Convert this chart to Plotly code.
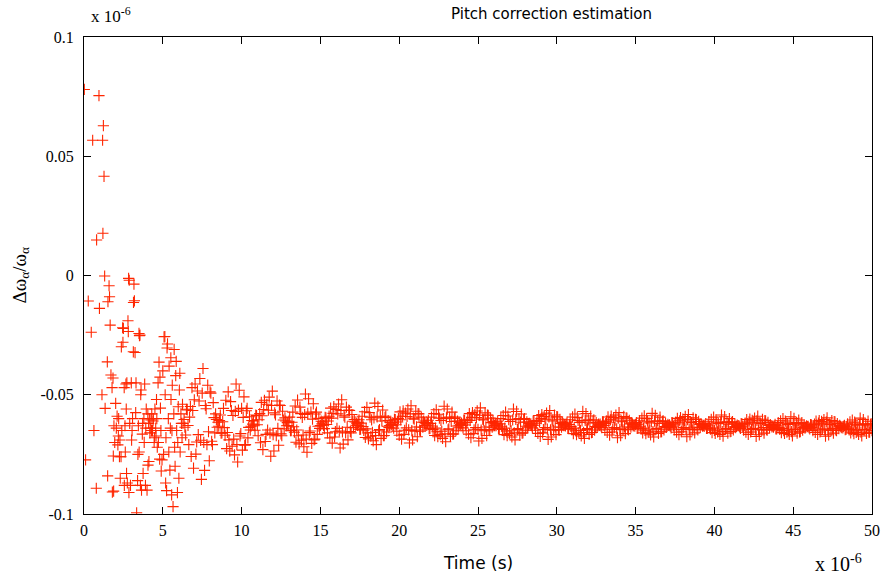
import plotly.graph_objects as go

# Time in microseconds (axis shows "x 10^-6"), values in units of 1e-6
early_time = [0.02, 0.10, 0.27, 0.46, 0.55, 0.63, 0.78, 0.80, 0.95, 0.98,
              1.14, 1.18, 1.20, 1.23, 1.27, 1.31, 1.34, 1.48, 1.50, 1.52,
              1.59, 1.62, 1.66, 1.71, 1.78, 1.80, 1.84, 1.86, 1.88, 1.90,
              1.95, 2.01, 2.05, 2.10, 2.15, 2.18, 2.20, 2.25, 2.28, 2.30,
              2.35, 2.37, 2.40, 2.45, 2.47, 2.50, 2.55, 2.56, 2.60, 2.62,
              2.66, 2.68, 2.70, 2.72, 2.75, 2.79, 2.81, 2.83, 2.85, 2.87,
              2.90, 2.95, 3.00, 3.02, 3.05, 3.08, 3.13, 3.14, 3.17, 3.20,
              3.24, 3.28, 3.30, 3.34, 3.40, 3.42, 3.45, 3.49, 3.50, 3.52,
              3.55, 3.58, 3.60, 3.62, 3.65, 3.70, 3.72, 3.75, 3.80, 3.82,
              3.85, 3.90, 3.92, 3.95, 4.00, 4.05, 4.06, 4.10, 4.12, 4.15,
              4.18, 4.20, 4.25, 4.28, 4.30, 4.35, 4.38, 4.40, 4.45, 4.48,
              4.50, 4.55, 4.57, 4.60, 4.62, 4.65, 4.70, 4.72, 4.76, 4.80,
              4.82, 4.85, 4.88, 4.90, 4.95, 5.00, 5.05, 5.08, 5.13, 5.15,
              5.18, 5.20, 5.24, 5.27, 5.30, 5.35, 5.38, 5.40, 5.45, 5.48,
              5.51, 5.52, 5.56, 5.58, 5.60, 5.65, 5.70, 5.72, 5.75, 5.78,
              5.82, 5.85, 5.88, 5.93, 5.95, 5.98, 6.02, 6.05, 6.08, 6.10,
              6.15, 6.18, 6.22, 6.25, 6.28]
early_value = [0.0780, -0.0773, -0.0107, -0.0238, 0.0567, -0.0650, -0.0892, 0.0149, 0.0754, -0.0138,
               -0.0500, 0.0567, 0.0177, 0.0628, 0.0416, -0.0002, -0.0557, -0.0362, -0.0840, -0.0110,
               -0.0043, -0.0089, -0.0208, -0.0417, -0.0470, -0.0908, -0.0430, -0.0757, -0.0904, -0.0630,
               -0.0700, -0.0536, -0.0640, -0.0590, -0.0710, -0.0673, -0.0600, -0.0760, -0.0690, -0.0850,
               -0.0760, -0.0299, -0.0650, -0.0219, -0.0280, -0.0222, -0.0470, -0.0880, -0.0630, -0.0740,
               -0.0455, -0.0560, -0.0830, -0.0450, -0.0870, -0.0190, -0.0235, -0.0012, -0.0910, -0.0020,
               -0.0620, -0.0880, -0.0450, -0.0690, -0.0650, -0.0600, -0.0320, -0.0113, -0.0036, -0.0106,
               -0.0323, -0.0575, -0.0450, -0.0995, -0.0860, -0.0750, -0.0630, -0.0243, -0.0740, -0.0252,
               -0.0250, -0.0880, -0.0500, -0.0480, -0.0900, -0.0665, -0.0620, -0.0830, -0.0600, -0.0700,
               -0.0455, -0.0880, -0.0640, -0.0560, -0.0900, -0.0580, -0.0795, -0.0620, -0.0780, -0.0600,
               -0.0660, -0.0640, -0.0606, -0.0650, -0.0580, -0.0650, -0.0610, -0.0600, -0.0700, -0.0680,
               -0.0560, -0.0640, -0.0673, -0.0520, -0.0600, -0.0720, -0.0450, -0.0700, -0.0363, -0.0770,
               -0.0426, -0.0556, -0.0650, -0.0820, -0.0773, -0.0400, -0.0750, -0.0257, -0.0256, -0.0500,
               -0.0870, -0.0680, -0.0902, -0.0304, -0.0287, -0.0600, -0.0740, -0.0380, -0.0816, -0.0640,
               -0.0345, -0.0520, -0.0920, -0.0650, -0.0460, -0.0969, -0.0580, -0.0310, -0.0720, -0.0800,
               -0.0420, -0.0360, -0.0650, -0.0910, -0.0700, -0.0550, -0.0850, -0.0480, -0.0410, -0.0740,
               -0.0580, -0.0620, -0.0680, -0.0540, -0.0620]

# Samples at x.x5 microseconds
seg2_time = [6.35, 6.45, 6.55, 6.65, 6.75, 6.85, 6.95, 7.05, 7.15, 7.25, 7.35, 7.45, 7.55, 7.65, 7.75, 7.85, 7.95, 8.05, 8.15, 8.25, 8.35, 8.45,
             8.55, 8.65, 8.75, 8.85, 8.95, 9.05, 9.15, 9.25, 9.35, 9.45, 9.55, 9.65, 9.75, 9.85, 9.95, 10.05, 10.15, 10.25, 10.35, 10.45, 10.55, 10.65,
             10.75, 10.85, 10.95, 11.05, 11.15, 11.25, 11.35, 11.45, 11.55, 11.65, 11.75, 11.85, 11.95, 12.05, 12.15, 12.25, 12.35, 12.45, 12.55, 12.65, 12.75, 12.85,
             12.95, 13.05, 13.15, 13.25, 13.35, 13.45, 13.55, 13.65, 13.75, 13.85, 13.95, 14.05, 14.15, 14.25, 14.35, 14.45, 14.55, 14.65, 14.75, 14.85, 14.95, 15.05,
             15.15, 15.25, 15.35, 15.45, 15.55, 15.65, 15.75, 15.85, 15.95, 16.05, 16.15, 16.25, 16.35, 16.45, 16.55, 16.65, 16.75, 16.85, 16.95, 17.05, 17.15, 17.25]
seg2_value = [-0.0604, -0.0669, -0.0564, -0.0709, -0.0549, -0.0470, -0.0808, -0.0455, -0.0698, -0.0667, -0.0432, -0.0855, -0.0390, -0.0817, -0.0559, -0.0460, -0.0777, -0.0493, -0.0709, -0.0596, -0.0580, -0.0636,
              -0.0632, -0.0585, -0.0660, -0.0557, -0.0670, -0.0726, -0.0488, -0.0736, -0.0566, -0.0587, -0.0752, -0.0455, -0.0782, -0.0481, -0.0663, -0.0732, -0.0509, -0.0709, -0.0557, -0.0637, -0.0648, -0.0608,
              -0.0610, -0.0649, -0.0587, -0.0672, -0.0579, -0.0532, -0.0730, -0.0523, -0.0666, -0.0648, -0.0510, -0.0758, -0.0485, -0.0736, -0.0584, -0.0526, -0.0712, -0.0545, -0.0672, -0.0606, -0.0597, -0.0630,
              -0.0629, -0.0594, -0.0650, -0.0573, -0.0657, -0.0699, -0.0522, -0.0706, -0.0579, -0.0595, -0.0718, -0.0497, -0.0741, -0.0517, -0.0652, -0.0704, -0.0538, -0.0686, -0.0573, -0.0632, -0.0641, -0.0611,
              -0.0614, -0.0642, -0.0597, -0.0660, -0.0590, -0.0556, -0.0703, -0.0550, -0.0655, -0.0641, -0.0539, -0.0723, -0.0521, -0.0707, -0.0594, -0.0552, -0.0689, -0.0566, -0.0660, -0.0611, -0.0604, -0.0628]

seg3_time = [17.35, 17.45, 17.55, 17.65, 17.75, 17.85, 17.95, 18.05, 18.15, 18.25, 18.35, 18.45, 18.55, 18.65, 18.75, 18.85, 18.95, 19.05, 19.15, 19.25, 19.35, 19.45,
             19.55, 19.65, 19.75, 19.85, 19.95, 20.05, 20.15, 20.25, 20.35, 20.45, 20.55, 20.65, 20.75, 20.85, 20.95, 21.05, 21.15, 21.25, 21.35, 21.45, 21.55, 21.65,
             21.75, 21.85, 21.95, 22.05, 22.15, 22.25, 22.35, 22.45, 22.55, 22.65, 22.75, 22.85, 22.95, 23.05, 23.15, 23.25, 23.35, 23.45, 23.55, 23.65, 23.75, 23.85,
             23.95, 24.05, 24.15, 24.25, 24.35, 24.45, 24.55, 24.65, 24.75, 24.85, 24.95, 25.05, 25.15, 25.25, 25.35, 25.45, 25.55, 25.65, 25.75, 25.85, 25.95, 26.05,
             26.15, 26.25, 26.35, 26.45, 26.55, 26.65, 26.75, 26.85, 26.95, 27.05, 27.15, 27.25, 27.35, 27.45, 27.55, 27.65, 27.75, 27.85, 27.95, 28.05, 28.15, 28.25]
seg3_value = [-0.0629, -0.0605, -0.0644, -0.0590, -0.0649, -0.0679, -0.0553, -0.0685, -0.0594, -0.0605, -0.0693, -0.0535, -0.0709, -0.0549, -0.0646, -0.0683, -0.0564, -0.0671, -0.0590, -0.0632, -0.0638, -0.0617,
              -0.0617, -0.0640, -0.0604, -0.0653, -0.0599, -0.0572, -0.0686, -0.0568, -0.0649, -0.0639, -0.0560, -0.0702, -0.0546, -0.0689, -0.0602, -0.0569, -0.0676, -0.0580, -0.0653, -0.0615, -0.0610, -0.0629,
              -0.0628, -0.0607, -0.0641, -0.0594, -0.0646, -0.0671, -0.0563, -0.0676, -0.0598, -0.0608, -0.0683, -0.0548, -0.0697, -0.0560, -0.0643, -0.0674, -0.0573, -0.0664, -0.0594, -0.0631, -0.0636, -0.0618,
              -0.0619, -0.0639, -0.0607, -0.0651, -0.0603, -0.0579, -0.0680, -0.0575, -0.0647, -0.0638, -0.0568, -0.0694, -0.0555, -0.0683, -0.0606, -0.0576, -0.0671, -0.0586, -0.0651, -0.0617, -0.0612, -0.0629,
              -0.0630, -0.0611, -0.0641, -0.0600, -0.0645, -0.0667, -0.0573, -0.0671, -0.0604, -0.0612, -0.0677, -0.0560, -0.0689, -0.0570, -0.0642, -0.0669, -0.0581, -0.0660, -0.0600, -0.0632, -0.0636, -0.0620]

seg4_time = [28.35, 28.45, 28.55, 28.65, 28.75, 28.85, 28.95, 29.05, 29.15, 29.25, 29.35, 29.45, 29.55, 29.65, 29.75, 29.85, 29.95, 30.05, 30.15, 30.25, 30.35, 30.45,
             30.55, 30.65, 30.75, 30.85, 30.95, 31.05, 31.15, 31.25, 31.35, 31.45, 31.55, 31.65, 31.75, 31.85, 31.95, 32.05, 32.15, 32.25, 32.35, 32.45, 32.55, 32.65,
             32.75, 32.85, 32.95, 33.05, 33.15, 33.25, 33.35, 33.45, 33.55, 33.65, 33.75, 33.85, 33.95, 34.05, 34.15, 34.25, 34.35, 34.45, 34.55, 34.65, 34.75, 34.85,
             34.95, 35.05, 35.15, 35.25, 35.35, 35.45, 35.55, 35.65, 35.75, 35.85, 35.95, 36.05, 36.15, 36.25, 36.35, 36.45, 36.55, 36.65, 36.75, 36.85, 36.95, 37.05,
             37.15, 37.25, 37.35, 37.45, 37.55, 37.65, 37.75, 37.85, 37.95, 38.05, 38.15, 38.25, 38.35, 38.45, 38.55, 38.65, 38.75, 38.85, 38.95, 39.05, 39.15, 39.25]
seg4_value = [-0.0622, -0.0639, -0.0611, -0.0649, -0.0608, -0.0587, -0.0675, -0.0583, -0.0646, -0.0638, -0.0577, -0.0687, -0.0566, -0.0677, -0.0610, -0.0585, -0.0667, -0.0593, -0.0649, -0.0620, -0.0616, -0.0630,
              -0.0631, -0.0615, -0.0641, -0.0605, -0.0644, -0.0663, -0.0581, -0.0667, -0.0608, -0.0616, -0.0673, -0.0570, -0.0683, -0.0579, -0.0642, -0.0666, -0.0589, -0.0658, -0.0605, -0.0633, -0.0637, -0.0623,
              -0.0623, -0.0638, -0.0614, -0.0647, -0.0611, -0.0593, -0.0669, -0.0590, -0.0644, -0.0638, -0.0585, -0.0680, -0.0575, -0.0672, -0.0613, -0.0591, -0.0663, -0.0598, -0.0647, -0.0622, -0.0618, -0.0631,
              -0.0632, -0.0617, -0.0640, -0.0609, -0.0643, -0.0660, -0.0588, -0.0663, -0.0611, -0.0618, -0.0668, -0.0578, -0.0677, -0.0586, -0.0641, -0.0662, -0.0594, -0.0655, -0.0609, -0.0633, -0.0637, -0.0624,
              -0.0626, -0.0639, -0.0618, -0.0647, -0.0615, -0.0599, -0.0667, -0.0596, -0.0645, -0.0638, -0.0591, -0.0676, -0.0583, -0.0668, -0.0617, -0.0597, -0.0660, -0.0604, -0.0647, -0.0624, -0.0621, -0.0632]

seg5_time = [39.35, 39.45, 39.55, 39.65, 39.75, 39.85, 39.95, 40.05, 40.15, 40.25, 40.35, 40.45, 40.55, 40.65, 40.75, 40.85, 40.95, 41.05, 41.15, 41.25, 41.35, 41.45,
             41.55, 41.65, 41.75, 41.85, 41.95, 42.05, 42.15, 42.25, 42.35, 42.45, 42.55, 42.65, 42.75, 42.85, 42.95, 43.05, 43.15, 43.25, 43.35, 43.45, 43.55, 43.65,
             43.75, 43.85, 43.95, 44.05, 44.15, 44.25, 44.35, 44.45, 44.55, 44.65, 44.75, 44.85, 44.95, 45.05, 45.15, 45.25, 45.35, 45.45, 45.55, 45.65, 45.75, 45.85,
             45.95, 46.05, 46.15, 46.25, 46.35, 46.45, 46.55, 46.65, 46.75, 46.85, 46.95, 47.05, 47.15, 47.25, 47.35, 47.45, 47.55, 47.65, 47.75, 47.85, 47.95, 48.05,
             48.15, 48.25, 48.35, 48.45, 48.55, 48.65, 48.75, 48.85, 48.95, 49.05, 49.15, 49.25, 49.35, 49.45, 49.55, 49.65, 49.75, 49.85, 49.95]
seg5_value = [-0.0633, -0.0621, -0.0641, -0.0613, -0.0644, -0.0659, -0.0594, -0.0662, -0.0615, -0.0621, -0.0666, -0.0585, -0.0674, -0.0592, -0.0642, -0.0661, -0.0600, -0.0654, -0.0613, -0.0635, -0.0638, -0.0627,
              -0.0629, -0.0641, -0.0622, -0.0648, -0.0619, -0.0604, -0.0666, -0.0602, -0.0646, -0.0641, -0.0598, -0.0675, -0.0590, -0.0668, -0.0621, -0.0603, -0.0661, -0.0609, -0.0648, -0.0628, -0.0625, -0.0635,
              -0.0636, -0.0624, -0.0643, -0.0617, -0.0645, -0.0659, -0.0600, -0.0662, -0.0619, -0.0625, -0.0666, -0.0592, -0.0673, -0.0599, -0.0644, -0.0661, -0.0606, -0.0655, -0.0617, -0.0637, -0.0640, -0.0630,
              -0.0632, -0.0643, -0.0626, -0.0650, -0.0623, -0.0610, -0.0666, -0.0608, -0.0648, -0.0643, -0.0604, -0.0674, -0.0597, -0.0668, -0.0625, -0.0608, -0.0661, -0.0614, -0.0650, -0.0631, -0.0628, -0.0638,
              -0.0639, -0.0628, -0.0645, -0.0622, -0.0647, -0.0660, -0.0606, -0.0663, -0.0623, -0.0628, -0.0666, -0.0598, -0.0673, -0.0604, -0.0646, -0.0662, -0.0611, -0.0657, -0.0622]

# Samples at x.x0 microseconds
seg2b_time = [6.4, 6.5, 6.6, 6.7, 6.8, 6.9, 7.0, 7.1, 7.2, 7.3, 7.4, 7.5, 7.6, 7.7, 7.8, 7.9, 8.0, 8.1, 8.2, 8.3, 8.4, 8.5,
              8.6, 8.7, 8.8, 8.9, 9.0, 9.1, 9.2, 9.3, 9.4, 9.5, 9.6, 9.7, 9.8, 9.9, 10.0, 10.1, 10.2, 10.3, 10.4, 10.5, 10.6, 10.7,
              10.8, 10.9, 11.0, 11.1, 11.2, 11.3, 11.4, 11.5, 11.6, 11.7, 11.8, 11.9, 12.0, 12.1, 12.2, 12.3, 12.4, 12.5, 12.6, 12.7, 12.8, 12.9,
              13.0, 13.1, 13.2, 13.3, 13.4, 13.5, 13.6, 13.7, 13.8, 13.9, 14.0, 14.1, 14.2, 14.3, 14.4, 14.5, 14.6, 14.7, 14.8, 14.9, 15.0, 15.1,
              15.2, 15.3, 15.4, 15.5, 15.6, 15.7, 15.8, 15.9, 16.0, 16.1, 16.2, 16.3, 16.4, 16.5, 16.6, 16.7, 16.8, 16.9, 17.0, 17.1, 17.2, 17.3]
seg2b_value = [-0.0636, -0.0561, -0.0629, -0.0594, -0.0759, -0.0566, -0.0521, -0.0749, -0.0484, -0.0526, -0.0691, -0.0493, -0.0700, -0.0545, -0.0709, -0.0655, -0.0488, -0.0695, -0.0533, -0.0660, -0.0604, -0.0615,
               -0.0608, -0.0661, -0.0613, -0.0638, -0.0523, -0.0658, -0.0689, -0.0529, -0.0716, -0.0686, -0.0570, -0.0709, -0.0564, -0.0673, -0.0557, -0.0595, -0.0712, -0.0567, -0.0681, -0.0592, -0.0632, -0.0623,
               -0.0630, -0.0585, -0.0626, -0.0605, -0.0701, -0.0588, -0.0562, -0.0696, -0.0540, -0.0565, -0.0661, -0.0545, -0.0667, -0.0576, -0.0672, -0.0641, -0.0543, -0.0664, -0.0569, -0.0643, -0.0610, -0.0617,
               -0.0611, -0.0651, -0.0615, -0.0634, -0.0547, -0.0648, -0.0672, -0.0552, -0.0691, -0.0669, -0.0583, -0.0686, -0.0578, -0.0659, -0.0573, -0.0602, -0.0689, -0.0581, -0.0666, -0.0599, -0.0629, -0.0622,
               -0.0628, -0.0595, -0.0625, -0.0610, -0.0681, -0.0598, -0.0578, -0.0677, -0.0562, -0.0580, -0.0652, -0.0566, -0.0656, -0.0588, -0.0660, -0.0636, -0.0564, -0.0654, -0.0583, -0.0638, -0.0614, -0.0619]

seg3b_time = [17.4, 17.5, 17.6, 17.7, 17.8, 17.9, 18.0, 18.1, 18.2, 18.3, 18.4, 18.5, 18.6, 18.7, 18.8, 18.9, 19.0, 19.1, 19.2, 19.3, 19.4, 19.5,
              19.6, 19.7, 19.8, 19.9, 20.0, 20.1, 20.2, 20.3, 20.4, 20.5, 20.6, 20.7, 20.8, 20.9, 21.0, 21.1, 21.2, 21.3, 21.4, 21.5, 21.6, 21.7,
              21.8, 21.9, 22.0, 22.1, 22.2, 22.3, 22.4, 22.5, 22.6, 22.7, 22.8, 22.9, 23.0, 23.1, 23.2, 23.3, 23.4, 23.5, 23.6, 23.7, 23.8, 23.9,
              24.0, 24.1, 24.2, 24.3, 24.4, 24.5, 24.6, 24.7, 24.8, 24.9, 25.0, 25.1, 25.2, 25.3, 25.4, 25.5, 25.6, 25.7, 25.8, 25.9, 26.0, 26.1,
              26.2, 26.3, 26.4, 26.5, 26.6, 26.7, 26.8, 26.9, 27.0, 27.1, 27.2, 27.3, 27.4, 27.5, 27.6, 27.7, 27.8, 27.9, 28.0, 28.1, 28.2, 28.3]
seg3b_value = [-0.0617, -0.0645, -0.0619, -0.0633, -0.0571, -0.0643, -0.0660, -0.0575, -0.0674, -0.0658, -0.0597, -0.0671, -0.0593, -0.0651, -0.0590, -0.0610, -0.0672, -0.0595, -0.0656, -0.0608, -0.0629, -0.0625,
               -0.0629, -0.0603, -0.0626, -0.0614, -0.0670, -0.0605, -0.0590, -0.0666, -0.0577, -0.0591, -0.0647, -0.0580, -0.0650, -0.0598, -0.0653, -0.0635, -0.0579, -0.0648, -0.0594, -0.0636, -0.0617, -0.0621,
               -0.0618, -0.0642, -0.0620, -0.0631, -0.0579, -0.0640, -0.0655, -0.0582, -0.0667, -0.0653, -0.0600, -0.0664, -0.0597, -0.0647, -0.0594, -0.0612, -0.0665, -0.0599, -0.0651, -0.0610, -0.0628, -0.0625,
               -0.0629, -0.0606, -0.0627, -0.0616, -0.0665, -0.0608, -0.0595, -0.0663, -0.0583, -0.0596, -0.0645, -0.0586, -0.0648, -0.0602, -0.0651, -0.0635, -0.0585, -0.0646, -0.0598, -0.0636, -0.0619, -0.0623,
               -0.0620, -0.0641, -0.0622, -0.0632, -0.0587, -0.0640, -0.0652, -0.0589, -0.0663, -0.0651, -0.0605, -0.0660, -0.0603, -0.0646, -0.0600, -0.0615, -0.0661, -0.0604, -0.0649, -0.0614, -0.0630, -0.0626]

seg4b_time = [28.4, 28.5, 28.6, 28.7, 28.8, 28.9, 29.0, 29.1, 29.2, 29.3, 29.4, 29.5, 29.6, 29.7, 29.8, 29.9, 30.0, 30.1, 30.2, 30.3, 30.4, 30.5,
              30.6, 30.7, 30.8, 30.9, 31.0, 31.1, 31.2, 31.3, 31.4, 31.5, 31.6, 31.7, 31.8, 31.9, 32.0, 32.1, 32.2, 32.3, 32.4, 32.5, 32.6, 32.7,
              32.8, 32.9, 33.0, 33.1, 33.2, 33.3, 33.4, 33.5, 33.6, 33.7, 33.8, 33.9, 34.0, 34.1, 34.2, 34.3, 34.4, 34.5, 34.6, 34.7, 34.8, 34.9,
              35.0, 35.1, 35.2, 35.3, 35.4, 35.5, 35.6, 35.7, 35.8, 35.9, 36.0, 36.1, 36.2, 36.3, 36.4, 36.5, 36.6, 36.7, 36.8, 36.9, 37.0, 37.1,
              37.2, 37.3, 37.4, 37.5, 37.6, 37.7, 37.8, 37.9, 38.0, 38.1, 38.2, 38.3, 38.4, 38.5, 38.6, 38.7, 38.8, 38.9, 39.0, 39.1, 39.2, 39.3]
seg4b_value = [-0.0630, -0.0611, -0.0628, -0.0619, -0.0662, -0.0612, -0.0600, -0.0660, -0.0591, -0.0602, -0.0644, -0.0593, -0.0647, -0.0606, -0.0649, -0.0635, -0.0592, -0.0646, -0.0603, -0.0636, -0.0622, -0.0625,
               -0.0623, -0.0641, -0.0625, -0.0633, -0.0593, -0.0640, -0.0651, -0.0596, -0.0660, -0.0650, -0.0610, -0.0658, -0.0608, -0.0645, -0.0605, -0.0618, -0.0659, -0.0609, -0.0648, -0.0617, -0.0631, -0.0628,
               -0.0631, -0.0614, -0.0629, -0.0621, -0.0658, -0.0615, -0.0605, -0.0656, -0.0596, -0.0606, -0.0643, -0.0598, -0.0645, -0.0610, -0.0647, -0.0635, -0.0597, -0.0644, -0.0607, -0.0636, -0.0623, -0.0626,
               -0.0624, -0.0641, -0.0626, -0.0634, -0.0598, -0.0640, -0.0649, -0.0600, -0.0657, -0.0648, -0.0613, -0.0655, -0.0611, -0.0644, -0.0609, -0.0620, -0.0656, -0.0612, -0.0647, -0.0619, -0.0632, -0.0629,
               -0.0632, -0.0617, -0.0631, -0.0624, -0.0657, -0.0618, -0.0609, -0.0655, -0.0602, -0.0610, -0.0643, -0.0604, -0.0645, -0.0614, -0.0647, -0.0636, -0.0603, -0.0644, -0.0612, -0.0637, -0.0626, -0.0628]

seg5b_time = [39.4, 39.5, 39.6, 39.7, 39.8, 39.9, 40.0, 40.1, 40.2, 40.3, 40.4, 40.5, 40.6, 40.7, 40.8, 40.9, 41.0, 41.1, 41.2, 41.3, 41.4, 41.5,
              41.6, 41.7, 41.8, 41.9, 42.0, 42.1, 42.2, 42.3, 42.4, 42.5, 42.6, 42.7, 42.8, 42.9, 43.0, 43.1, 43.2, 43.3, 43.4, 43.5, 43.6, 43.7,
              43.8, 43.9, 44.0, 44.1, 44.2, 44.3, 44.4, 44.5, 44.6, 44.7, 44.8, 44.9, 45.0, 45.1, 45.2, 45.3, 45.4, 45.5, 45.6, 45.7, 45.8, 45.9,
              46.0, 46.1, 46.2, 46.3, 46.4, 46.5, 46.6, 46.7, 46.8, 46.9, 47.0, 47.1, 47.2, 47.3, 47.4, 47.5, 47.6, 47.7, 47.8, 47.9, 48.0, 48.1,
              48.2, 48.3, 48.4, 48.5, 48.6, 48.7, 48.8, 48.9, 49.0, 49.1, 49.2, 49.3, 49.4, 49.5, 49.6, 49.7, 49.8, 49.9, 50.0]
seg5b_value = [-0.0627, -0.0641, -0.0628, -0.0635, -0.0603, -0.0640, -0.0649, -0.0605, -0.0656, -0.0648, -0.0616, -0.0654, -0.0615, -0.0644, -0.0613, -0.0623, -0.0655, -0.0616, -0.0647, -0.0622, -0.0633, -0.0631,
               -0.0635, -0.0621, -0.0634, -0.0627, -0.0657, -0.0622, -0.0614, -0.0656, -0.0607, -0.0615, -0.0645, -0.0609, -0.0647, -0.0618, -0.0648, -0.0638, -0.0608, -0.0646, -0.0616, -0.0639, -0.0629, -0.0631,
               -0.0630, -0.0643, -0.0631, -0.0638, -0.0609, -0.0642, -0.0650, -0.0610, -0.0657, -0.0649, -0.0621, -0.0655, -0.0619, -0.0646, -0.0617, -0.0627, -0.0656, -0.0620, -0.0648, -0.0626, -0.0636, -0.0634,
               -0.0638, -0.0625, -0.0637, -0.0631, -0.0658, -0.0626, -0.0619, -0.0656, -0.0612, -0.0619, -0.0647, -0.0614, -0.0648, -0.0623, -0.0650, -0.0641, -0.0613, -0.0647, -0.0621, -0.0642, -0.0632, -0.0634,
               -0.0633, -0.0646, -0.0634, -0.0640, -0.0614, -0.0645, -0.0652, -0.0615, -0.0658, -0.0651, -0.0625, -0.0657, -0.0623, -0.0648, -0.0622, -0.0630, -0.0657, -0.0624, -0.0650]

x_ticks = [0, 5, 10, 15, 20, 25, 30, 35, 40, 45, 50]
y_ticks = [-0.1, -0.05, 0, 0.05, 0.1]
y_tick_labels = ["-0.1", "-0.05", "0", "0.05", "0.1"]

time_all = (early_time + seg2_time + seg2b_time + seg3_time + seg3b_time
            + seg4_time + seg4b_time + seg5_time + seg5b_time)
value_all = (early_value + seg2_value + seg2b_value + seg3_value + seg3b_value
             + seg4_value + seg4b_value + seg5_value + seg5b_value)

RED = "rgb(255,38,0)"
fig = go.Figure()
fig.add_trace(go.Scatter(
    x=time_all, y=value_all, mode="markers",
    marker=dict(symbol="cross-thin", size=8, color=RED, line=dict(color=RED, width=1.1)),
    showlegend=False, hoverinfo="x+y", cliponaxis=True,
))

serif = "Liberation Serif, Times New Roman, serif"
sans = "DejaVu Sans, Verdana, sans-serif"
tickfont = dict(family=serif, size=16, color="black")
fig.update_xaxes(range=[0, 50], tickvals=x_ticks, ticktext=[str(v) for v in x_ticks],
                 ticks="inside", ticklen=7, tickcolor="black", showline=True, linecolor="black",
                 linewidth=1, mirror="ticks", showgrid=False, zeroline=False, tickfont=tickfont,
                 automargin=False, ticklabelstandoff=2)
fig.update_yaxes(range=[-0.1, 0.1], tickvals=y_ticks, ticktext=y_tick_labels,
                 ticks="inside", ticklen=7, tickcolor="black", showline=True, linecolor="black",
                 linewidth=1, mirror="ticks", showgrid=False, zeroline=False, tickfont=tickfont,
                 automargin=False, ticklabelstandoff=6)

fig.update_layout(
    width=882, height=577,
    margin=dict(l=84, r=10, t=37, b=63),
    paper_bgcolor="white", plot_bgcolor="white",
    annotations=[
        dict(text="Pitch correction estimation", xref="paper", yref="paper",
             x=0.593, y=1.0, yshift=23, xanchor="center", yanchor="middle",
             showarrow=False, font=dict(family=sans, size=15, color="black")),
        dict(text="Time (s)", xref="paper", yref="paper",
             x=0.5, y=0.0, yshift=-49, xanchor="center", yanchor="middle",
             showarrow=False, font=dict(family=sans, size=17, color="black")),
        dict(text="x 10<sup>-6</sup>", xref="paper", yref="paper",
             x=1.0, y=0.0, xshift=-8, yshift=-49, xanchor="right", yanchor="middle",
             showarrow=False, font=dict(family=serif, size=20, color="black")),
        dict(text="x 10<sup>-6</sup>", xref="paper", yref="paper",
             x=0.0, y=1.0, xshift=5, yshift=22, xanchor="left", yanchor="middle",
             showarrow=False, font=dict(family=serif, size=17, color="black")),
        dict(text="Δω<sub>α</sub>/ω<sub>α</sub>", xref="paper", yref="paper",
             x=0.0, y=0.5, xshift=-64, xanchor="center", yanchor="middle", textangle=-90,
             showarrow=False, font=dict(family=serif, size=19, color="black")),
    ],
)

# Remove the default page margin so the 882x577 figure fills the window exactly,
# and hide the interactive mode bar.
fig.write_html("out.html", config={"displayModeBar": False},
               post_script="document.body.style.margin='0px';")
